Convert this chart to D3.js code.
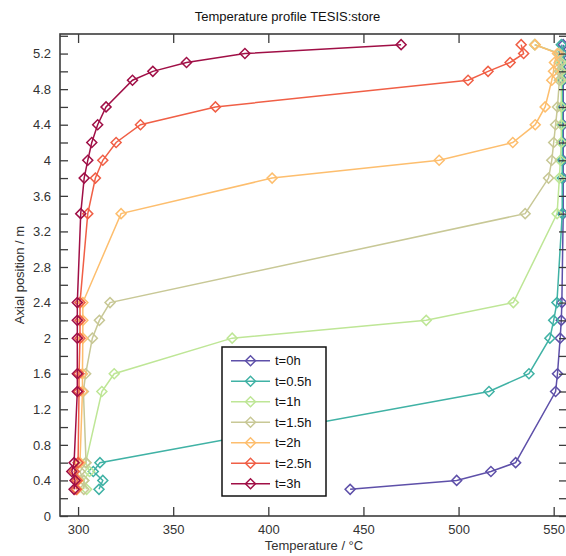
<!DOCTYPE html>
<html>
<head>
<meta charset="utf-8">
<script src="https://cdn.jsdelivr.net/npm/d3@7"></script>
<style>
  html, body { margin: 0; padding: 0; background: #fff; }
  svg { display: block; font-family: "Liberation Sans", Arial, sans-serif; }
</style>
</head>
<body>
<svg id="chart" width="566" height="556"></svg>
<script>
// ---- data ----
const heights = [0.3, 0.4, 0.5, 0.6, 1.4, 1.6, 2.0, 2.2, 2.4, 3.4, 3.8, 4.0, 4.2, 4.4, 4.6, 4.9, 5.0, 5.1, 5.2, 5.3];
const t0h   = [443, 499, 517, 530, 551, 552, 553.4, 554, 554.3, 555, 555, 555, 555, 555, 555, 555, 555, 555, 555, 555];
const t05h  = [311, 313, 308, 311.5, 516, 537, 548, 550, 551.7, 554.5, 554.5, 554.5, 554.5, 554.5, 554.5, 554.5, 554.5, 554.5, 554.5, 554];
const t1h   = [304.5, 303, 306, 304, 312.5, 319, 381, 483, 528.8, 551.8, 553, 553.5, 554, 554, 554, 554, 554, 554, 553, 540];
const t15h  = [303, 303, 301, 304.2, 302.8, 304, 307.5, 311.2, 316.8, 535, 547.3, 549, 550, 551, 552, 553, 553, 553, 553, 540];
const t2h   = [299.5, 300, 298, 301, 302.3, 302.3, 302.5, 302.5, 302.5, 322.6, 402, 489.8, 528.5, 540.3, 545.5, 549, 549.9, 550.4, 552, 540.3];
const t25h  = [299, 299.5, 298, 300, 300.5, 300.5, 301, 301, 301, 305.1, 309.1, 313, 320, 332.8, 372.2, 505, 515.5, 527.1, 534.2, 532.9];
const t3h   = [297.9, 298.4, 296.7, 297.9, 299.6, 299.6, 299.6, 299.6, 299.6, 301.4, 303.2, 305.1, 307.2, 310.3, 314.7, 328.6, 339.3, 357, 387.7, 469.8];
const seriesLabels = ["t=0h", "t=0.5h", "t=1h", "t=1.5h", "t=2h", "t=2.5h", "t=3h"];
const seriesValues = [t0h, t05h, t1h, t15h, t2h, t25h, t3h];
const seriesColors = ["#5e50a9", "#40b2a5", "#bee696", "#c8c896", "#fdbe6e", "#f05f46", "#a00f46"];
const xTicks = [300, 350, 400, 450, 500, 550];
const yTicks = [0, 0.2, 0.4, 0.6, 0.8, 1.0, 1.2, 1.4, 1.6, 1.8, 2.0, 2.2, 2.4, 2.6, 2.8, 3.0, 3.2, 3.4, 3.6, 3.8, 4.0, 4.2, 4.4, 4.6, 4.8, 5.0, 5.2, 5.4];
const yLabelTicks = [0, 0.4, 0.8, 1.2, 1.6, 2, 2.4, 2.8, 3.2, 3.6, 4, 4.4, 4.8, 5.2];
const titleText = "Temperature profile TESIS:store";
const xLabelText = "Temperature / °C";
const yLabelText = "Axial position / m";

// ---- layout ----
const svg = d3.select("#chart");
const L = 60, R = 567, T = 34, B = 516;
const x = d3.scaleLinear().domain([290.5, 557]).range([L, R]);
const y = d3.scaleLinear().domain([0, 5.42]).range([B, T]);
const axisColor = "#3c3c3c";
const textColor = "#333";

// data lines
const line = d3.line().x(d => x(d[0])).y(d => y(d[1]));

const plot = svg.append("g");
seriesValues.forEach((vals, i) => {
  const pts = vals.map((v, k) => [v, heights[k]]);
  const g = plot.append("g");
  g.append("path").datum(pts).attr("d", line)
    .attr("fill", "none").attr("stroke", seriesColors[i]).attr("stroke-width", 1.5);
  g.selectAll("path.m").data(pts).enter().append("path").attr("class", "m")
    .attr("d", d3.symbol().type(d3.symbolSquare).size(50))
    .attr("transform", d => `translate(${x(d[0])},${y(d[1])}) rotate(45)`)
    .attr("fill", "none").attr("stroke", seriesColors[i]).attr("stroke-width", 1.5);
});

// axes frame
const frame = svg.append("g");
frame.append("rect").attr("x", L).attr("y", T).attr("width", R - L).attr("height", B - T)
  .attr("fill", "none").attr("stroke", axisColor).attr("stroke-width", 1.6);

// x ticks (bottom and top, inward)
const xAxisB = d3.axisBottom(x).tickValues(xTicks).tickSizeInner(-9).tickSizeOuter(0).tickPadding(9);
const gxb = svg.append("g").attr("transform", `translate(0,${B})`).call(xAxisB);
const xAxisT = d3.axisTop(x).tickValues(xTicks).tickSizeInner(-9).tickSizeOuter(0).tickFormat("");
const gxt = svg.append("g").attr("transform", `translate(0,${T})`).call(xAxisT);

// y ticks (left and right, inward)
const yAxisL = d3.axisLeft(y).tickValues(yTicks).tickSizeInner(-8).tickSizeOuter(0)
  .tickFormat(d => yLabelTicks.some(v => Math.abs(v - d) < 1e-6) ? d3.format("~g")(d) : "").tickPadding(9);
const gyl = svg.append("g").attr("transform", `translate(${L},0)`).call(yAxisL);
const yAxisR = d3.axisRight(y).tickValues(yTicks).tickSizeInner(-8).tickSizeOuter(0).tickFormat("");
const gyr = svg.append("g").attr("transform", `translate(${R},0)`).call(yAxisR);

[gxb, gxt, gyl, gyr].forEach(g => {
  g.select(".domain").remove();
  g.selectAll(".tick line").attr("stroke", axisColor).attr("stroke-width", 1.3);
  g.selectAll(".tick text").attr("fill", textColor).style("font-size", "13px")
    .style("font-family", "'Liberation Sans', Arial, sans-serif");
});

// title and labels
svg.append("text").attr("x", 287.5).attr("y", 21).attr("text-anchor", "middle")
  .attr("fill", "#111").style("font-size", "13px").text(titleText);
svg.append("text").attr("x", 314).attr("y", 550).attr("text-anchor", "middle")
  .attr("fill", textColor).style("font-size", "13px").text(xLabelText);
svg.append("text").attr("transform", `translate(24,${(T + B) / 2}) rotate(-90)`)
  .attr("text-anchor", "middle").attr("fill", textColor).style("font-size", "13px").text(yLabelText);

// legend
const leg = svg.append("g");
leg.append("rect").attr("x", 222).attr("y", 347).attr("width", 104).attr("height", 149)
  .attr("fill", "#fff").attr("stroke", "#111").attr("stroke-width", 1.5);
seriesLabels.forEach((lab, i) => {
  const cy = 360.7 + i * 20.5;
  leg.append("line").attr("x1", 231).attr("x2", 270).attr("y1", cy).attr("y2", cy)
    .attr("stroke", seriesColors[i]).attr("stroke-width", 1.5);
  leg.append("path").attr("d", d3.symbol().type(d3.symbolSquare).size(50))
    .attr("transform", `translate(250.5,${cy}) rotate(45)`)
    .attr("fill", "none").attr("stroke", seriesColors[i]).attr("stroke-width", 1.5);
  leg.append("text").attr("x", 275).attr("y", cy + 4.5).attr("fill", "#111")
    .style("font-size", "13px").text(lab);
});
</script>
</body>
</html>
